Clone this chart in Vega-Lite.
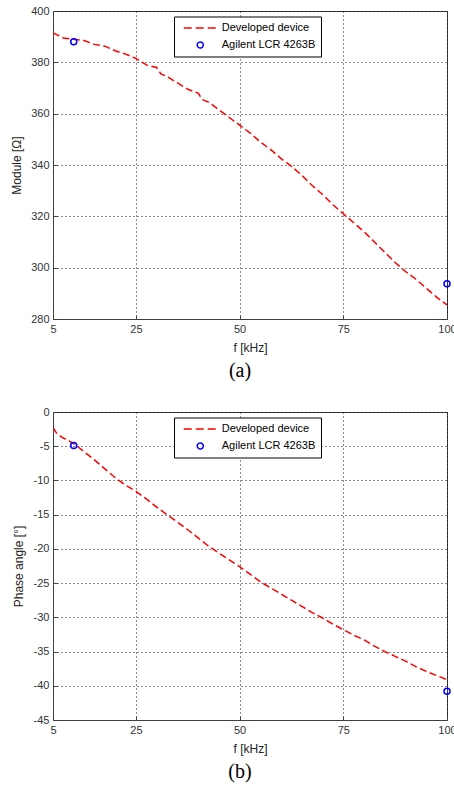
{
  "$schema": "https://vega.github.io/schema/vega-lite/v6.json",
  "background": "white",
  "padding": {"left": 9, "top": 4, "right": 0, "bottom": 0},
  "spacing": 23,
  "config": {
    "font": "Liberation Sans",
    "view": {"stroke": "#404040", "strokeWidth": 1},
    "axis": {
      "labelFont": "Liberation Sans", "labelFontSize": 11, "labelColor": "#333",
      "labelOverlap": false, "labelFlush": false, "tickCount": 20,
      "titleFont": "Liberation Sans", "titleFontSize": 12, "titleFontWeight": "normal", "titleColor": "#222",
      "domainColor": "#404040", "tickColor": "#404040", "tickSize": -4, "labelPadding": 8,
      "gridColor": "#000", "gridDash": [1, 3], "gridOpacity": 0.9, "gridWidth": 1
    },
    "title": {"font": "Liberation Serif", "fontSize": 20, "fontWeight": "normal", "color": "#000"}
  },
  "datasets": {
    "module_dev": [
      {"f": 5, "v": 391.5, "series": "Developed device"},
      {"f": 7.5, "v": 389.5, "series": "Developed device"},
      {"f": 10, "v": 389, "series": "Developed device"},
      {"f": 12.5, "v": 388.5, "series": "Developed device"},
      {"f": 15, "v": 387, "series": "Developed device"},
      {"f": 17.5, "v": 386.3, "series": "Developed device"},
      {"f": 20, "v": 384.5, "series": "Developed device"},
      {"f": 22.5, "v": 383.2, "series": "Developed device"},
      {"f": 25, "v": 381.5, "series": "Developed device"},
      {"f": 27.5, "v": 379, "series": "Developed device"},
      {"f": 30, "v": 378, "series": "Developed device"},
      {"f": 31, "v": 375.5, "series": "Developed device"},
      {"f": 32.5, "v": 374.5, "series": "Developed device"},
      {"f": 35, "v": 372, "series": "Developed device"},
      {"f": 37.5, "v": 369.5, "series": "Developed device"},
      {"f": 40, "v": 368, "series": "Developed device"},
      {"f": 41, "v": 365.5, "series": "Developed device"},
      {"f": 42.5, "v": 364.5, "series": "Developed device"},
      {"f": 45, "v": 361.5, "series": "Developed device"},
      {"f": 47.5, "v": 358.5, "series": "Developed device"},
      {"f": 50, "v": 355.5, "series": "Developed device"},
      {"f": 52.5, "v": 352.5, "series": "Developed device"},
      {"f": 55, "v": 349, "series": "Developed device"},
      {"f": 57.5, "v": 346, "series": "Developed device"},
      {"f": 60, "v": 342.5, "series": "Developed device"},
      {"f": 62.5, "v": 339.5, "series": "Developed device"},
      {"f": 65, "v": 336, "series": "Developed device"},
      {"f": 67.5, "v": 332, "series": "Developed device"},
      {"f": 70, "v": 328.5, "series": "Developed device"},
      {"f": 72.5, "v": 324.5, "series": "Developed device"},
      {"f": 75, "v": 321, "series": "Developed device"},
      {"f": 77.5, "v": 317.5, "series": "Developed device"},
      {"f": 80, "v": 314, "series": "Developed device"},
      {"f": 82.5, "v": 310, "series": "Developed device"},
      {"f": 85, "v": 306, "series": "Developed device"},
      {"f": 87.5, "v": 302, "series": "Developed device"},
      {"f": 90, "v": 298.5, "series": "Developed device"},
      {"f": 92.5, "v": 295.5, "series": "Developed device"},
      {"f": 95, "v": 292, "series": "Developed device"},
      {"f": 97.5, "v": 288.5, "series": "Developed device"},
      {"f": 100, "v": 285.5, "series": "Developed device"}
    ],
    "module_lcr": [
      {"f": 10, "v": 388, "series": "Agilent LCR 4263B"},
      {"f": 100, "v": 293.7, "series": "Agilent LCR 4263B"}
    ],
    "phase_dev": [
      {"f": 5, "v": -2.3, "series": "Developed device"},
      {"f": 6, "v": -3.2, "series": "Developed device"},
      {"f": 7.5, "v": -3.8, "series": "Developed device"},
      {"f": 10, "v": -4.6, "series": "Developed device"},
      {"f": 12.5, "v": -5.8, "series": "Developed device"},
      {"f": 15, "v": -7, "series": "Developed device"},
      {"f": 17.5, "v": -8.3, "series": "Developed device"},
      {"f": 20, "v": -9.6, "series": "Developed device"},
      {"f": 22.5, "v": -10.7, "series": "Developed device"},
      {"f": 25, "v": -11.6, "series": "Developed device"},
      {"f": 27.5, "v": -12.7, "series": "Developed device"},
      {"f": 30, "v": -13.9, "series": "Developed device"},
      {"f": 32.5, "v": -15.0, "series": "Developed device"},
      {"f": 35, "v": -16.1, "series": "Developed device"},
      {"f": 37.5, "v": -17.2, "series": "Developed device"},
      {"f": 40, "v": -18.4, "series": "Developed device"},
      {"f": 42.5, "v": -19.6, "series": "Developed device"},
      {"f": 45, "v": -20.6, "series": "Developed device"},
      {"f": 47.5, "v": -21.6, "series": "Developed device"},
      {"f": 50, "v": -22.6, "series": "Developed device"},
      {"f": 52.5, "v": -23.7, "series": "Developed device"},
      {"f": 55, "v": -24.8, "series": "Developed device"},
      {"f": 57.5, "v": -25.7, "series": "Developed device"},
      {"f": 60, "v": -26.6, "series": "Developed device"},
      {"f": 62.5, "v": -27.5, "series": "Developed device"},
      {"f": 65, "v": -28.4, "series": "Developed device"},
      {"f": 67.5, "v": -29.3, "series": "Developed device"},
      {"f": 70, "v": -30.1, "series": "Developed device"},
      {"f": 72.5, "v": -31.0, "series": "Developed device"},
      {"f": 75, "v": -31.8, "series": "Developed device"},
      {"f": 77.5, "v": -32.6, "series": "Developed device"},
      {"f": 80, "v": -33.3, "series": "Developed device"},
      {"f": 82.5, "v": -34.2, "series": "Developed device"},
      {"f": 85, "v": -35.0, "series": "Developed device"},
      {"f": 87.5, "v": -35.7, "series": "Developed device"},
      {"f": 90, "v": -36.4, "series": "Developed device"},
      {"f": 92.5, "v": -37.2, "series": "Developed device"},
      {"f": 95, "v": -37.9, "series": "Developed device"},
      {"f": 97.5, "v": -38.5, "series": "Developed device"},
      {"f": 100, "v": -39.1, "series": "Developed device"}
    ],
    "phase_lcr": [
      {"f": 10, "v": -4.9, "series": "Agilent LCR 4263B"},
      {"f": 100, "v": -40.8, "series": "Agilent LCR 4263B"}
    ]
  },
  "resolve": {"scale": {"color": "independent"}, "legend": {"color": "independent"}},
  "vconcat": [
    {
      "width": 394, "height": 308,
      "title": {"text": "(a)", "orient": "bottom", "anchor": "middle", "dx": -10, "offset": 8},
      "layer": [
        {
          "data": {"name": "module_dev"},
          "mark": {"type": "line", "strokeDash": [7, 3.5], "strokeWidth": 1.5, "clip": true},
          "encoding": {
            "x": {"field": "f", "type": "quantitative", "scale": {"domain": [5, 100], "nice": false, "zero": false},
                  "axis": {"values": [5, 25, 50, 75, 100], "tickCount": 20, "labelOverlap": false, "labelFlush": false, "title": "f [kHz]", "titleY": 28, "titleBaseline": "middle"}},
            "y": {"field": "v", "type": "quantitative", "scale": {"domain": [280, 400], "nice": false, "zero": false},
                  "axis": {"values": [280, 300, 320, 340, 360, 380, 400], "tickCount": 20, "labelOverlap": false, "title": "Module [Ω]", "titleX": -37, "titleY": 154, "titleBaseline": "middle", "titleAngle": -90}},
            "color": {"field": "series", "type": "nominal",
                      "scale": {"domain": ["Developed device", "Agilent LCR 4263B"], "range": ["#ff0000", "#0000ff"]},
                      "legend": {
                        "orient": "none", "legendX": 121, "legendY": 5.5, "title": null, "direction": "vertical",
                        "strokeColor": "#000", "fillColor": "#fff", "padding": 5,
                        "symbolSize": 121, "symbolStrokeWidth": 1.5, "symbolOffset": 14.75, "labelOffset": 15,
                        "rowPadding": 5,
                        "labelFont": "Liberation Sans", "labelFontSize": 11, "labelColor": "#000",
                        "labelExpr": "datum.label + '      '",
                        "encode": {"symbols": {"update": {
                          "shape": {"signal": "datum.value === 'Developed device' ? 'M-3,0L3,0' : 'M0.55,0A0.55,0.55,0,1,1,-0.55,0A0.55,0.55,0,1,1,0.55,0Z'"},
                          "strokeDash": {"signal": "datum.value === 'Developed device' ? [8,4] : [1,0]"},
                          "stroke": {"signal": "datum.value === 'Developed device' ? '#ff0000' : '#0000ff'"},
                          "fill": {"value": "transparent"},
                          "strokeWidth": {"value": 1.5},
                          "opacity": {"value": 1}
                        }}}
                      }}
          }
        },
        {
          "data": {"name": "module_lcr"},
          "mark": {"type": "point", "shape": "circle", "filled": false, "size": 36, "strokeWidth": 1.5, "opacity": 1},
          "encoding": {
            "x": {"field": "f", "type": "quantitative"},
            "y": {"field": "v", "type": "quantitative"},
            "color": {"field": "series", "type": "nominal"}
          }
        }
      ]
    },
    {
      "width": 394, "height": 308,
      "title": {"text": "(b)", "orient": "bottom", "anchor": "middle", "dx": -10, "offset": 8},
      "layer": [
        {
          "data": {"name": "phase_dev"},
          "mark": {"type": "line", "strokeDash": [7, 3.5], "strokeWidth": 1.5, "clip": true},
          "encoding": {
            "x": {"field": "f", "type": "quantitative", "scale": {"domain": [5, 100], "nice": false, "zero": false},
                  "axis": {"values": [5, 25, 50, 75, 100], "tickCount": 20, "labelOverlap": false, "labelFlush": false, "title": "f [kHz]", "titleY": 28, "titleBaseline": "middle"}},
            "y": {"field": "v", "type": "quantitative", "scale": {"domain": [-45, 0], "nice": false, "zero": false},
                  "axis": {"values": [-45, -40, -35, -30, -25, -20, -15, -10, -5, 0], "tickCount": 20, "labelOverlap": false, "labelExpr": "toString(datum.value)", "title": "Phase angle [°]", "titleX": -35, "titleY": 154, "titleBaseline": "middle", "titleAngle": -90}},
            "color": {"field": "series", "type": "nominal",
                      "scale": {"domain": ["Developed device", "Agilent LCR 4263B"], "range": ["#ff0000", "#0000ff"]},
                      "legend": {
                        "orient": "none", "legendX": 121, "legendY": 5.5, "title": null, "direction": "vertical",
                        "strokeColor": "#000", "fillColor": "#fff", "padding": 5,
                        "symbolSize": 121, "symbolStrokeWidth": 1.5, "symbolOffset": 14.75, "labelOffset": 15,
                        "rowPadding": 5,
                        "labelFont": "Liberation Sans", "labelFontSize": 11, "labelColor": "#000",
                        "labelExpr": "datum.label + '      '",
                        "encode": {"symbols": {"update": {
                          "shape": {"signal": "datum.value === 'Developed device' ? 'M-3,0L3,0' : 'M0.55,0A0.55,0.55,0,1,1,-0.55,0A0.55,0.55,0,1,1,0.55,0Z'"},
                          "strokeDash": {"signal": "datum.value === 'Developed device' ? [8,4] : [1,0]"},
                          "stroke": {"signal": "datum.value === 'Developed device' ? '#ff0000' : '#0000ff'"},
                          "fill": {"value": "transparent"},
                          "strokeWidth": {"value": 1.5},
                          "opacity": {"value": 1}
                        }}}
                      }}
          }
        },
        {
          "data": {"name": "phase_lcr"},
          "mark": {"type": "point", "shape": "circle", "filled": false, "size": 36, "strokeWidth": 1.5, "opacity": 1},
          "encoding": {
            "x": {"field": "f", "type": "quantitative"},
            "y": {"field": "v", "type": "quantitative"},
            "color": {"field": "series", "type": "nominal"}
          }
        }
      ]
    }
  ]
}
